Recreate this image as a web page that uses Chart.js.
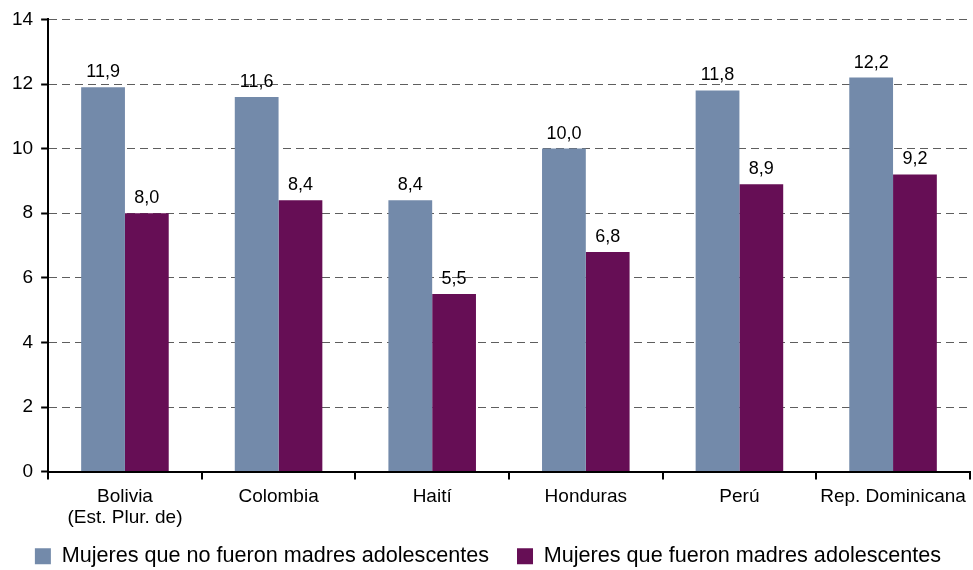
<!DOCTYPE html>
<html>
<head>
<meta charset="utf-8">
<script src="https://cdn.jsdelivr.net/npm/chart.js@4/dist/chart.umd.min.js"></script>
<style>
html,body{margin:0;padding:0;background:#fff;}
#wrap{width:973px;height:570px;position:relative;}
</style>
</head>
<body>
<div id="wrap"><canvas id="c" width="973" height="570"></canvas></div>
<script>
const categories = [["Bolivia","(Est. Plur. de)"], "Colombia", "Haití", "Honduras", "Perú", "Rep. Dominicana"];
const noMadres = [11.9, 11.6, 8.4, 10.0, 11.8, 12.2];
const siMadres = [8.0, 8.4, 5.5, 6.8, 8.9, 9.2];
const seriesNames = ["Mujeres que no fueron madres adolescentes", "Mujeres que fueron madres adolescentes"];
const yTicks = [0, 2, 4, 6, 8, 10, 12, 14];

const FONT = "'Liberation Sans', Arial, sans-serif";

const valueLabels = {
  id: 'valueLabels',
  afterDatasetsDraw(chart) {
    const ctx = chart.ctx;
    ctx.save();
    ctx.font = "18px " + FONT;
    ctx.fillStyle = "#000";
    ctx.textAlign = "center";
    ctx.textBaseline = "bottom";
    chart.data.datasets.forEach((ds, i) => {
      const meta = chart.getDatasetMeta(i);
      meta.data.forEach((bar, j) => {
        const v = ds.data[j];
        ctx.fillText(v.toFixed(1).replace('.', ','), bar.x, bar.y - 6);
      });
    });
    ctx.restore();
  }
};

new Chart(document.getElementById('c'), {
  type: 'bar',
  data: {
    labels: categories,
    datasets: [
      { label: seriesNames[0], data: noMadres, backgroundColor: '#738aaa', borderWidth: 0,
        categoryPercentage: 0.57, barPercentage: 1.0 },
      { label: seriesNames[1], data: siMadres, backgroundColor: '#660e55', borderWidth: 0,
        categoryPercentage: 0.57, barPercentage: 1.0 }
    ]
  },
  options: {
    responsive: false,
    animation: false,
    devicePixelRatio: 1,
    layout: { padding: { left: 4, right: 1, top: 9, bottom: -7 } },
    plugins: {
      legend: {
        position: 'bottom',
        labels: {
          font: { family: FONT, size: 21.6 },
          color: '#000',
          boxWidth: 16,
          boxHeight: 16,
          padding: 10,
          useBorderRadius: false,
          generateLabels(chart) {
            const items = Chart.defaults.plugins.legend.labels.generateLabels(chart);
            items.forEach((it, i) => { if (i === 0) it.text = it.text + '\u00a0\u00a0\u00a0'; });
            return items;
          }
        }
      },
      tooltip: { enabled: false }
    },
    scales: {
      x: {
        offset: true,
        grid: {
          display: true, offset: true, drawOnChartArea: false, drawTicks: true,
          tickLength: 8, tickColor: '#000', lineWidth: 2, color: '#000'
        },
        border: { display: true, color: '#000', width: 2 },
        ticks: { font: { family: FONT, size: 19, lineHeight: 1.1 }, color: '#000', padding: 7, maxRotation: 0, autoSkip: false }
      },
      y: {
        min: 0, max: 14,
        afterBuildTicks(axis) { axis.ticks = yTicks.map(v => ({ value: v })); },
        grid: {
          color: '#5e5e5e', lineWidth: 1, drawTicks: true, tickLength: 7, tickColor: '#000', tickWidth: 2
        },
        border: { display: true, color: '#000', width: 2, dash: [8, 5] },
        ticks: { font: { family: FONT, size: 19 }, color: '#000', padding: 8 }
      }
    }
  },
  plugins: [valueLabels]
});
</script>
</body>
</html>
